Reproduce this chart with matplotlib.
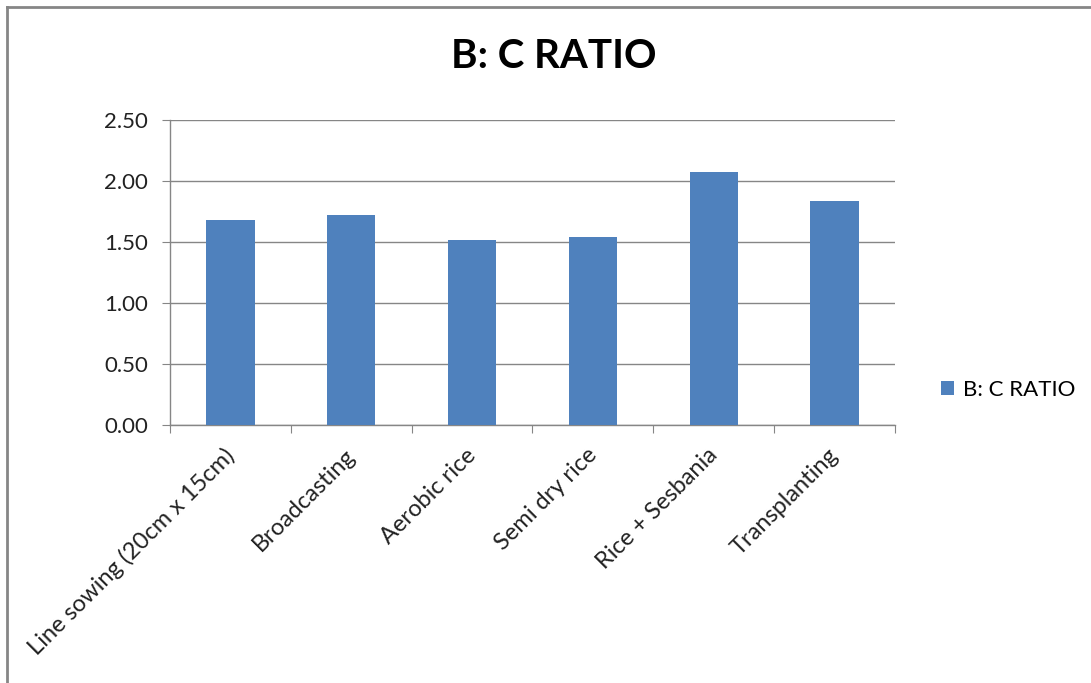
import matplotlib
matplotlib.use("Agg")
import matplotlib.pyplot as plt
from matplotlib.lines import Line2D
from matplotlib.transforms import ScaledTranslation
import numpy as np

categories = ["Line sowing (20cm x 15cm)", "Broadcasting", "Aerobic rice",
              "Semi dry rice", "Rice + Sesbania", "Transplanting"]
values = [1.68, 1.72, 1.52, 1.54, 2.07, 1.84]
yticks = [0.0, 0.5, 1.0, 1.5, 2.0, 2.5]
series_name = "B: C RATIO"
title = "B: C RATIO"

W, H = 1091, 683
plt.rcParams['font.family'] = ['Lato', 'DejaVu Sans']
fig = plt.figure(figsize=(W / 100, H / 100), dpi=100)
fig.patch.set_facecolor("white")

gray = "#868686"
# chart border (top and left visible)
fig.add_artist(Line2D([7 / W, 7 / W], [0, 1 - 7 / H], transform=fig.transFigure,
                      color=gray, lw=2))
fig.add_artist(Line2D([7 / W, 1], [1 - 7 / H, 1 - 7 / H], transform=fig.transFigure,
                      color=gray, lw=2))

ax = fig.add_axes([170 / W, 1 - 425 / H, (895 - 170) / W, (425 - 120) / H])
x = np.arange(len(categories))
bars = ax.bar(x, values, width=0.4, color="#4F81BD", zorder=3, label=series_name)

ax.set_xlim(-0.5, len(categories) - 0.5)
ax.set_ylim(0, 2.5)
ax.set_yticks(yticks)
ax.set_yticklabels([f"{v:.2f}" for v in yticks], fontsize=16, color="#222222")
ax.yaxis.grid(True, color=gray, lw=1, zorder=0)
for s in ["top", "right"]:
    ax.spines[s].set_visible(False)
for s in ["left", "bottom"]:
    ax.spines[s].set_color(gray)
    ax.spines[s].set_linewidth(1)
ax.tick_params(axis="y", direction="out", length=6, color=gray, pad=10)

# category boundary ticks
ax.set_xticks(np.arange(len(categories) + 1) - 0.5, minor=False)
ax.set_xticklabels([])
ax.tick_params(axis="x", which="major", direction="out", length=6, color=gray)
ax.set_xticks(x, minor=True)
ax.set_xticklabels(categories, minor=True, rotation=45, ha="right", va="top",
                   rotation_mode="anchor", fontsize=17, color="#222222")
ax.tick_params(axis="x", which="minor", length=0, pad=14)
offset = ScaledTranslation(-7 / 100, 0, fig.dpi_scale_trans)
for lab in ax.get_xticklabels(minor=True):
    lab.set_transform(lab.get_transform() + offset)

fig.text(554 / W, 1 - 57 / H, title, ha="center", va="center",
         fontsize=29, fontweight="bold", color="black")

fig.legend(handles=[bars], labels=[series_name], loc="center left",
           bbox_to_anchor=(921 / W, 1 - 390 / H), frameon=False,
           handlelength=0.6, handleheight=0.6, handletextpad=0.4,
           prop={"size": 16})

fig.savefig("out.png", dpi=100, facecolor="white")
